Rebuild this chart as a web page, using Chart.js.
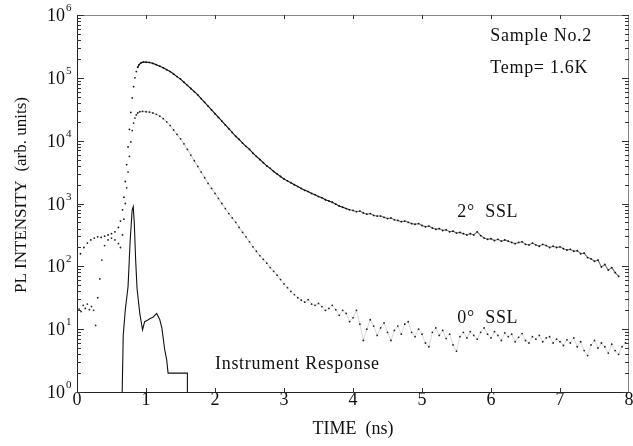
<!DOCTYPE html>
<html>
<head>
<meta charset="utf-8">
<script src="https://cdn.jsdelivr.net/npm/chart.js@4.4.1/dist/chart.umd.min.js"></script>
<style>
  html, body { margin: 0; padding: 0; background: #fff; }
  canvas { display: block; }
</style>
</head>
<body>
<canvas id="plChart" width="633" height="446"></canvas>
<script>
'use strict';

// PL decay of sample No.2 at 1.6 K.

const ssl2Times = [
    0.00, 0.05, 0.10, 0.15, 0.20, 0.25, 0.30, 0.35, 0.40, 0.45, 0.50, 0.55, 0.60, 0.63,
    0.66, 0.68, 0.70, 0.72, 0.74, 0.76, 0.78, 0.80, 0.82, 0.84, 0.86, 0.88, 0.90, 0.93, 0.96, 1.00,
    1.05, 1.10, 1.15, 1.20, 1.25, 1.30, 1.35, 1.40, 1.45, 1.50, 1.55, 1.60, 1.65, 1.70, 1.75,
    1.80, 1.85, 1.90, 1.95, 2.00, 2.05, 2.10, 2.15, 2.20, 2.25, 2.30, 2.35, 2.40, 2.45, 2.50,
    2.55, 2.60, 2.65, 2.70, 2.75, 2.80, 2.85, 2.90, 2.95, 3.00, 3.05, 3.10, 3.15, 3.20, 3.25,
    3.30, 3.35, 3.40, 3.45, 3.50, 3.55, 3.60, 3.65, 3.70, 3.75, 3.80, 3.85, 3.90, 3.95, 4.00,
    4.05, 4.10, 4.15, 4.20, 4.25, 4.30, 4.35, 4.40, 4.45, 4.50, 4.55, 4.60, 4.65, 4.70, 4.75,
    4.80, 4.85, 4.90, 4.95, 5.00, 5.05, 5.10, 5.15, 5.20, 5.25, 5.30, 5.35, 5.40, 5.45, 5.50,
    5.55, 5.60, 5.65, 5.70, 5.75, 5.80, 5.85, 5.90, 5.95, 6.00, 6.05, 6.10, 6.15, 6.20, 6.25,
    6.30, 6.35, 6.40, 6.45, 6.50, 6.55, 6.60, 6.65, 6.70, 6.75, 6.80, 6.85, 6.90, 6.95, 7.00,
    7.05, 7.10, 7.15, 7.20, 7.25, 7.30, 7.35, 7.40, 7.45, 7.50, 7.55, 7.60, 7.65, 7.70, 7.75,
    7.80, 7.85
];
const ssl2Exp = [
    2.05, 2.20, 2.30, 2.37, 2.42, 2.45, 2.47, 2.46, 2.48, 2.50, 2.52, 2.55, 2.62, 2.72,
    2.90, 3.10, 3.35, 3.62, 3.90, 4.18, 4.45, 4.68, 4.86, 5.00, 5.10, 5.17, 5.21, 5.24, 5.25, 5.25,
    5.245, 5.23, 5.21, 5.185, 5.16, 5.13, 5.10, 5.06, 5.02, 4.98, 4.93, 4.88, 4.83, 4.78, 4.73,
    4.67, 4.61, 4.55, 4.49, 4.43, 4.37, 4.31, 4.25, 4.19, 4.13, 4.07, 4.02, 3.96, 3.91, 3.86,
    3.80, 3.75, 3.70, 3.65, 3.60, 3.56, 3.51, 3.47, 3.43, 3.39, 3.36, 3.33, 3.30, 3.27, 3.24,
    3.21, 3.19, 3.16, 3.14, 3.11, 3.09, 3.06, 3.04, 3.02, 2.99, 2.96, 2.94, 2.92, 2.90, 2.89,
    2.87, 2.88, 2.85, 2.83, 2.84, 2.81, 2.80, 2.80, 2.78, 2.76, 2.77, 2.74, 2.73, 2.71, 2.72,
    2.70, 2.68, 2.67, 2.68, 2.65, 2.63, 2.64, 2.61, 2.59, 2.60, 2.57, 2.58, 2.55, 2.56, 2.53,
    2.54, 2.52, 2.50, 2.52, 2.50, 2.55, 2.49, 2.45, 2.43, 2.44, 2.41, 2.43, 2.40, 2.42, 2.40,
    2.38, 2.36, 2.38, 2.39, 2.35, 2.34, 2.37, 2.34, 2.32, 2.35, 2.33, 2.30, 2.32, 2.30, 2.31,
    2.28, 2.26, 2.27, 2.24, 2.25, 2.20, 2.21, 2.14, 2.12, 2.08, 2.10, 1.99, 2.03, 1.94, 1.98,
    1.90, 1.84
];

const ssl0Times = [
    0.00, 0.03, 0.06, 0.09, 0.12, 0.15, 0.18, 0.21, 0.24, 0.27, 0.30, 0.33, 0.36, 0.40,
    0.45, 0.50, 0.55, 0.60, 0.63, 0.66, 0.68, 0.70, 0.72, 0.74, 0.76, 0.78, 0.80, 0.82, 0.84,
    0.86, 0.88, 0.91, 0.95, 1.00,
    1.05, 1.10, 1.15, 1.20, 1.25, 1.30, 1.35, 1.40, 1.45, 1.50, 1.55, 1.60, 1.65, 1.70, 1.75,
    1.80, 1.85, 1.90, 1.95, 2.00, 2.05, 2.10, 2.15, 2.20, 2.25, 2.30, 2.35, 2.40, 2.45, 2.50,
    2.55, 2.60, 2.65, 2.70, 2.75, 2.80, 2.85, 2.90, 2.95, 3.00, 3.05, 3.10, 3.15, 3.20, 3.25,
    3.30, 3.35, 3.40, 3.45, 3.50, 3.55, 3.60, 3.65, 3.70, 3.75, 3.80, 3.85, 3.90, 3.95, 4.00,
    4.05, 4.10, 4.15, 4.20, 4.25, 4.30, 4.35, 4.40, 4.45, 4.50, 4.55, 4.60, 4.65, 4.70, 4.75,
    4.80, 4.85, 4.90, 4.95, 5.00, 5.05, 5.10, 5.15, 5.20, 5.25, 5.30, 5.35, 5.40, 5.45, 5.50,
    5.55, 5.60, 5.65, 5.70, 5.75, 5.80, 5.85, 5.90, 5.95, 6.00, 6.05, 6.10, 6.15, 6.20, 6.25,
    6.30, 6.35, 6.40, 6.45, 6.50, 6.55, 6.60, 6.65, 6.70, 6.75, 6.80, 6.85, 6.90, 6.95, 7.00,
    7.05, 7.10, 7.15, 7.20, 7.25, 7.30, 7.35, 7.40, 7.45, 7.50, 7.55, 7.60, 7.65, 7.70, 7.75,
    7.80, 7.85, 7.90, 7.95
];
const ssl0Exp = [
    1.20, 1.32, 1.28, 1.38, 1.33, 1.40, 1.31, 1.36, 1.30, 1.06, 1.50, 1.80, 2.10, 2.33,
    2.42, 2.45, 2.42, 2.36, 2.30, 2.50, 2.75, 3.00, 3.25, 3.50, 3.75, 3.98, 4.16, 4.28, 4.36,
    4.41, 4.44, 4.46, 4.465, 4.46,
    4.455, 4.44, 4.42, 4.39, 4.35, 4.30, 4.24, 4.17, 4.10, 4.03, 3.95, 3.86, 3.77, 3.68, 3.59,
    3.50, 3.41, 3.32, 3.24, 3.16, 3.08, 3.00, 2.92, 2.84, 2.77, 2.70, 2.62, 2.54, 2.47, 2.39,
    2.31, 2.24, 2.17, 2.11, 2.05, 1.98, 1.92, 1.86, 1.79, 1.72, 1.66, 1.60, 1.55, 1.50, 1.46,
    1.43, 1.47, 1.40, 1.38, 1.41, 1.36, 1.30, 1.33, 1.38, 1.31, 1.22, 1.30, 1.25, 1.12, 1.18,
    1.30, 1.08, 0.82, 1.00, 1.15, 1.05, 0.90, 1.02, 1.10, 0.95, 0.82, 0.98, 1.05, 0.92, 1.08,
    1.12, 0.95, 0.88, 1.00, 0.92, 0.78, 0.72, 0.95, 1.02, 0.90, 0.98, 0.85, 0.92, 0.75, 0.65,
    0.88, 0.95, 0.86, 0.96, 0.90, 0.84, 0.95, 1.02, 0.92, 0.86, 0.96, 0.90, 0.82, 0.94, 0.88,
    0.92, 0.80, 0.87, 0.93, 0.82, 0.78, 0.88, 0.84, 0.90, 0.80, 0.86, 0.88, 0.78, 0.84, 0.80,
    0.74, 0.83, 0.78, 0.86, 0.72, 0.80, 0.66, 0.58, 0.75, 0.82, 0.70, 0.78, 0.72, 0.62, 0.76,
    0.66, 0.60, 0.72, 0.78
];

const instTimes = [
    0.655, 0.67, 0.70, 0.74, 0.77, 0.80, 0.815, 0.83, 0.85, 0.87, 0.91, 0.95, 0.98, 1.02,
    1.06, 1.10, 1.155, 1.20, 1.23, 1.27, 1.30, 1.32, 1.60, 1.60
];
const instExp = [
    0.00, 0.90, 1.31, 1.68, 2.40, 2.90, 2.95, 2.70, 2.10, 1.65, 1.25, 0.99, 1.12, 1.14,
    1.17, 1.19, 1.25, 1.15, 1.02, 0.68, 0.51, 0.30, 0.30, 0.00
];

const timeTicks = [0, 1, 2, 3, 4, 5, 6, 7, 8];
const decades = [0, 1, 2, 3, 4, 5, 6];

const notes = [
    { text: 'Sample No.2', t: 5.99, exp: 5.58 },
    { text: 'Temp= 1.6K', t: 5.99, exp: 5.08 },
    { text: '2°  SSL', t: 5.51, exp: 2.78 },
    { text: '0°  SSL', t: 5.51, exp: 1.10 },
    { text: 'Instrument Response', t: 2.00, exp: 0.36 }
];

const SERIF = '"Liberation Serif", "DejaVu Serif", serif';
const INK = '#111';

function toPoints(times, exps) {
    return times.map((t, i) => ({ x: t, y: Math.pow(10, exps[i]) }));
}

// steep rise shows as separate dots, smooth decay as a line, noisy tail lighter
function ssl2Segment(ctx) {
    const t = ctx.p0.parsed.x;
    if (t < 0.88) return 'rgba(0,0,0,0)';
    return t > 3.9 ? 'rgba(0,0,0,0.55)' : undefined;
}
function ssl0Segment(ctx) {
    const t = ctx.p0.parsed.x;
    if (t < 0.88) return 'rgba(0,0,0,0)';
    return t > 2.9 ? 'rgba(0,0,0,0.22)' : undefined;
}

const axisFrame = {
    id: 'axisFrame',
    afterDatasetsDraw(chart) {
        const { ctx, chartArea: a, scales: { x, y } } = chart;
        ctx.save();
        ctx.lineWidth = 1;

        ctx.strokeStyle = '#222';
        ctx.beginPath();
        ctx.moveTo(a.left + 0.5, a.top);
        ctx.lineTo(a.left + 0.5, a.bottom + 0.5);
        ctx.lineTo(a.right, a.bottom + 0.5);
        ctx.stroke();

        ctx.strokeStyle = '#888';
        ctx.beginPath();
        ctx.moveTo(a.left, a.top + 0.5);
        ctx.lineTo(a.right - 0.5, a.top + 0.5);
        ctx.lineTo(a.right - 0.5, a.bottom);
        ctx.stroke();

        // inward ticks, decades long and 2..9 short, on both sides
        ctx.strokeStyle = '#333';
        ctx.beginPath();
        y.ticks.forEach(tk => {
            const py = Math.round(y.getPixelForValue(tk.value)) + 0.5;
            const len = tk.major ? 7 : 4;
            ctx.moveTo(a.left, py);
            ctx.lineTo(a.left + len, py);
            ctx.moveTo(a.right, py);
            ctx.lineTo(a.right - len, py);
        });
        x.ticks.forEach(tk => {
            if (tk.value <= x.min || tk.value >= x.max) return;
            const px = Math.round(x.getPixelForValue(tk.value)) + 0.5;
            ctx.moveTo(px, a.bottom);
            ctx.lineTo(px, a.bottom - 4);
            ctx.moveTo(px, a.top);
            ctx.lineTo(px, a.top + 4);
        });
        ctx.stroke();

        // decade labels 10^n
        ctx.fillStyle = INK;
        ctx.textBaseline = 'alphabetic';
        y.ticks.filter(tk => tk.major).forEach(tk => {
            const py = y.getPixelForValue(tk.value);
            const n = Math.round(Math.log10(tk.value));
            ctx.font = '18px ' + SERIF;
            ctx.textAlign = 'right';
            ctx.fillText('10', 65, py + 6);
            ctx.font = '11px ' + SERIF;
            ctx.textAlign = 'left';
            ctx.fillText(String(n), 66, py - 4);
        });

        // y axis title
        ctx.font = '17px ' + SERIF;
        ctx.textAlign = 'center';
        ctx.translate(26, 195);
        ctx.rotate(-Math.PI / 2);
        ctx.fillText('PL INTENSITY  (arb. units)', 0, 0);
        ctx.restore();
    }
};

const textNotes = {
    id: 'textNotes',
    afterDraw(chart) {
        const { ctx, scales: { x, y } } = chart;
        ctx.save();
        ctx.fillStyle = INK;
        ctx.font = '18px ' + SERIF;
        ctx.letterSpacing = '0.7px';
        ctx.textAlign = 'left';
        ctx.textBaseline = 'alphabetic';
        notes.forEach(n => {
            ctx.fillText(n.text, x.getPixelForValue(n.t), y.getPixelForValue(Math.pow(10, n.exp)));
        });
        ctx.restore();
    }
};

new Chart(document.getElementById('plChart'), {
    type: 'line',
    data: {
        datasets: [
            {
                label: '2° SSL',
                data: toPoints(ssl2Times, ssl2Exp),
                showLine: true,
                borderColor: '#111',
                borderWidth: 1.1,
                segment: { borderColor: ssl2Segment },
                pointRadius: 0.9,
                pointBackgroundColor: '#111',
                pointBorderWidth: 0,
                pointHoverRadius: 0
            },
            {
                label: '0° SSL',
                data: toPoints(ssl0Times, ssl0Exp),
                showLine: true,
                borderColor: 'rgba(40,40,40,0.4)',
                borderWidth: 0.7,
                segment: { borderColor: ssl0Segment },
                pointRadius: 0.9,
                pointBackgroundColor: '#222',
                pointBorderWidth: 0,
                pointHoverRadius: 0
            },
            {
                label: 'Instrument Response',
                data: toPoints(instTimes, instExp),
                borderColor: '#111',
                borderWidth: 1.1,
                pointRadius: 0,
                tension: 0
            }
        ]
    },
    options: {
        responsive: false,
        animation: false,
        devicePixelRatio: 1,
        layout: { padding: { left: 0, right: 4, top: 15, bottom: 0 } },
        plugins: {
            legend: { display: false },
            tooltip: { enabled: false }
        },
        scales: {
            x: {
                type: 'linear',
                min: 0,
                max: 8,
                afterBuildTicks: axis => { axis.ticks = timeTicks.map(v => ({ value: v })); },
                ticks: { font: { family: SERIF, size: 18 }, color: INK, padding: -3, maxRotation: 0 },
                grid: { display: false, drawTicks: false },
                border: { display: false },
                title: {
                    display: true,
                    text: 'TIME  (ns)',
                    font: { family: SERIF, size: 18 },
                    color: INK,
                    padding: { top: 0, bottom: 6 }
                },
                afterFit: axis => { axis.height = 54; }
            },
            y: {
                type: 'logarithmic',
                min: 1,
                max: 1e6,
                afterBuildTicks: axis => {
                    const list = [];
                    decades.forEach(d => {
                        const steps = d === 6 ? [1] : [1, 2, 3, 4, 5, 6, 7, 8, 9];
                        steps.forEach(m => list.push({ value: m * Math.pow(10, d), major: m === 1 }));
                    });
                    axis.ticks = list;
                },
                ticks: { display: false },
                grid: { display: false, drawTicks: false },
                border: { display: false },
                afterFit: axis => { axis.width = 77; }
            }
        }
    },
    plugins: [axisFrame, textNotes]
});
</script>
</body>
</html>
